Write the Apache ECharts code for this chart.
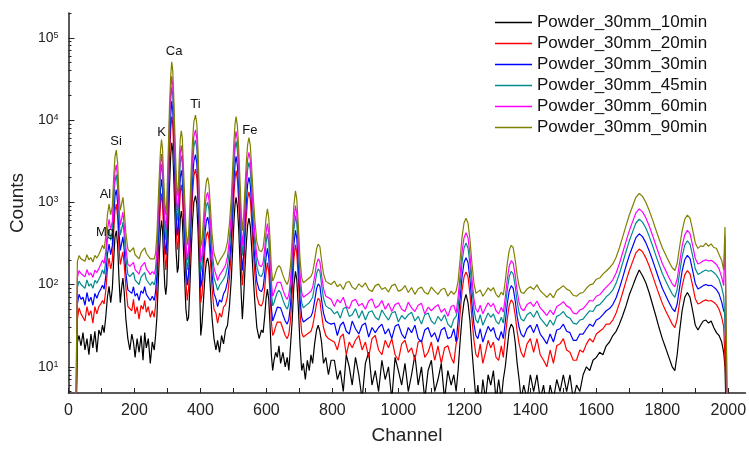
<!DOCTYPE html>
<html>
<head>
<meta charset="utf-8">
<script src="https://cdn.jsdelivr.net/npm/echarts@6/dist/echarts.min.js"></script>
<style>
  html, body { margin: 0; padding: 0; background: #fff; }
  #chart { width: 749px; height: 450px; }
</style>
</head>
<body>
<div id="chart"></div>
<script>
// channel axis, shared by all six spectra
const channels = [
  0,22,27,32,38,44,50,56,62,68,
  74,80,86,92,98,103,108,113,118,123,
  128,133,137,141,145,149,153,157,161,165,
  169,174,180,186,192,197,202,208,214,220,
  226,231,236,242,248,254,260,264,268,272,
  276,279,282,285,288,292,295,298,302,306,
  310,313,316,319,322,326,330,333,336,339,
  342,345,348,352,356,360,364,368,372,376,
  380,385,389,393,397,401,405,410,414,418,
  422,426,430,435,441,447,452,458,464,470,
  476,482,488,494,498,502,505,508,512,516,
  520,524,527,531,535,539,543,547,551,555,
  560,565,571,578,585,590,595,599,603,607,
  611,615,619,623,628,633,638,643,650,657,
  663,668,673,678,683,688,692,697,702,707,
  712,718,724,730,735,740,746,752,757,762,
  767,773,780,788,796,806,815,824,833,842,
  851,860,870,880,890,900,910,920,930,940,
  950,960,970,980,990,1000,1010,1020,1030,1040,
  1050,1060,1070,1080,1090,1100,1110,1120,1130,1140,
  1150,1160,1168,1175,1181,1187,1193,1199,1205,1211,
  1217,1223,1229,1235,1241,1248,1256,1264,1272,1280,
  1288,1296,1304,1312,1318,1324,1330,1336,1342,1348,
  1354,1360,1366,1372,1380,1390,1400,1410,1420,1430,
  1440,1450,1460,1470,1480,1490,1500,1510,1520,1530,
  1540,1550,1560,1570,1580,1590,1600,1610,1620,1630,
  1640,1650,1660,1670,1680,1690,1700,1710,1720,1730,
  1740,1750,1760,1770,1780,1790,1800,1810,1820,1830,
  1838,1845,1852,1860,1868,1876,1884,1892,1900,1908,
  1916,1924,1932,1940,1948,1956,1964,1972,1980,1986,
  1990,1993,1997,2005
];

const counts10 = [
  1,1,20,24,18,26,16,22,14,25,
  17,27,15,28,24,32,26,40,70,95,
  60,90,200,380,450,300,120,60,90,120,
  80,38,22,16,25,20,13,22,15,24,
  12,26,17,22,11,20,16,24,40,100,
  260,450,600,470,220,95,75,100,360,1450,
  3800,5300,4300,2100,850,260,140,160,370,630,
  780,630,310,120,50,36,40,95,260,580,
  1000,1200,950,420,120,24,34,72,135,190,
  210,165,90,40,22,16,21,15,24,19,
  28,32,55,125,290,630,950,1150,890,470,
  185,70,38,70,155,310,520,640,520,290,
  125,60,30,22,28,26,42,68,88,66,
  32,14,9,12,15,13,18,11,15,10,
  13,9,18,36,95,145,115,50,18,9,
  11,7,12,9,14,11,19,28,32,27,
  20,11,13,8,12,12,7,9,5,14,
  10,6,13,8,4,11,15,6,9,5,
  12,7,10,4,13,9,6,11,5,8,
  14,6,10,4,9,12,5,7,11,4,
  9,6,8,5,9,20,40,62,76,60,
  36,16,8,4,6,3,7,4,8,6,
  9,4,7,4,7,10,17,28,33,30,
  20,11,7,4,6,4,8,5,8,4,
  6,3,6,4,7,5,8,5,8,4,
  6,5,8,10,9,12,13,15,14,18,
  20,24,27,33,42,55,75,95,122,150,
  128,105,80,58,42,30,22,17,13,10,
  9,14,26,48,70,80,70,48,32,28,
  32,36,37,34,36,30,26,24,20,15,
  10,3,1,1
];

const counts20 = [
  1,1,38,52,44,46,36,54,42,48,
  34,54,44,54,58,64,58,84,150,210,
  155,195,440,790,950,660,285,175,210,250,
  175,92,54,56,48,66,44,54,38,56,
  50,64,46,54,40,48,40,56,88,220,
  550,950,1280,990,480,220,150,220,770,3100,
  7700,11000,8800,4400,1750,550,265,330,770,1320,
  1630,1320,660,265,110,64,88,200,550,1210,
  2100,2530,1980,880,265,60,76,155,285,395,
  440,350,198,92,50,45,34,45,40,53,
  57,72,120,265,615,1320,1980,2420,1870,990,
  395,155,98,155,330,660,1100,1340,1100,615,
  265,132,72,57,55,62,92,143,183,143,
  77,35,24,26,31,35,37,35,29,24,
  22,25,37,77,198,305,240,110,44,26,
  23,24,25,26,27,31,42,59,68,64,
  44,30,24,22,21,20,16,23,25,14,
  20,17,21,24,16,20,13,22,24,16,
  14,21,17,22,14,12,19,21,15,17,
  12,20,21,13,15,20,12,18,11,17,
  18,13,11,19,23,44,84,124,142,124,
  77,38,21,14,13,19,11,15,21,17,
  20,13,12,18,13,23,38,56,65,60,
  43,27,19,15,13,19,22,15,22,14,
  12,10,16,11,18,19,22,16,15,12,
  12,16,15,19,22,20,25,27,29,33,
  33,37,45,59,80,110,148,190,243,270,
  250,211,169,130,99,76,59,48,40,33,
  30,38,59,95,131,148,135,97,67,58,
  60,63,65,63,64,61,57,50,40,31,
  30,6,1,1
];

const counts30 = [
  1,1,58,76,66,70,56,80,62,70,
  56,78,68,80,88,98,88,125,230,310,
  230,300,660,1200,1420,990,430,260,315,380,
  265,138,86,84,78,94,72,78,64,84,
  78,94,76,80,64,72,64,82,130,330,
  820,1420,1900,1480,720,330,230,330,1150,4600,
  11500,17000,13200,6600,2650,820,395,495,1150,1980,
  2450,1980,990,395,165,98,132,300,820,1820,
  3150,3800,2970,1320,395,92,115,230,430,595,
  660,530,300,138,78,67,54,65,61,77,
  86,108,180,395,925,1980,2970,3630,2800,1480,
  595,230,148,230,495,990,1650,2010,1650,925,
  395,198,108,86,82,92,138,215,275,215,
  115,52,36,40,46,53,56,52,43,36,
  33,38,56,115,300,455,365,165,66,40,
  35,36,38,40,41,46,63,89,102,96,
  66,45,36,34,33,34,24,32,35,27,
  25,36,29,25,32,34,23,30,26,30,
  33,25,29,22,31,33,25,22,30,26,
  32,22,20,28,30,23,26,20,28,30,
  22,23,29,20,36,66,125,185,212,185,
  115,58,33,24,22,29,20,25,31,27,
  30,23,21,27,22,35,58,84,97,90,
  64,41,30,25,23,29,32,26,33,25,
  22,19,25,20,28,29,33,27,26,21,
  21,25,25,29,33,31,37,39,43,48,
  51,57,69,90,122,168,226,290,372,414,
  382,323,258,200,152,116,90,74,61,51,
  47,58,90,145,200,226,206,148,103,88,
  92,97,100,97,98,93,87,77,61,48,
  45,10,1,1
];

const counts45 = [
  1,1,92,110,100,104,90,114,96,102,
  90,112,104,116,130,150,134,190,350,470,
  345,450,1000,1800,2150,1500,650,400,470,575,
  400,210,133,125,119,140,113,117,100,123,
  119,140,115,118,98,108,99,120,200,500,
  1250,2150,2900,2250,1100,500,350,500,1750,7000,
  17500,25000,20000,10000,4000,1250,600,750,1750,3000,
  3700,3000,1500,600,250,150,200,450,1250,2750,
  4750,5750,4500,2000,600,140,175,350,650,900,
  1000,800,450,210,120,101,85,98,94,116,
  130,165,275,600,1400,3000,4500,5500,4250,2250,
  900,350,225,350,750,1500,2500,3050,2500,1400,
  600,300,165,130,125,140,210,325,415,325,
  175,80,55,60,70,80,85,80,65,55,
  50,58,85,175,450,690,550,250,100,60,
  52,55,58,60,62,70,95,135,155,145,
  100,68,55,52,50,44,47,39,51,53,
  41,43,51,39,48,37,46,48,40,37,
  49,42,37,45,47,35,42,38,43,46,
  36,41,33,43,45,36,33,41,36,43,
  33,30,38,41,52,98,188,278,320,278,
  175,88,50,37,34,43,32,38,45,40,
  44,36,33,40,34,52,86,125,145,135,
  96,62,45,38,36,43,46,40,48,39,
  35,31,37,32,41,43,47,41,39,34,
  33,37,38,43,48,47,55,57,63,71,
  77,86,104,135,184,252,340,437,560,622,
  574,486,388,300,228,175,136,111,92,77,
  70,87,136,218,300,340,310,223,155,133,
  138,145,150,145,148,140,130,116,92,72,
  70,20,1,1
];

const counts60 = [
  1,2,122,148,136,140,124,152,130,138,
  122,150,140,156,176,198,180,250,460,620,
  465,590,1320,2400,2850,1980,860,530,625,760,
  530,280,176,166,160,186,152,156,134,164,
  160,186,156,156,132,144,134,158,265,660,
  1650,2850,3850,2980,1450,660,460,660,2300,9200,
  23000,34000,26500,13200,5300,1650,790,990,2300,3950,
  4900,3950,1980,790,330,198,265,595,1650,3650,
  6300,7600,5950,2650,790,185,230,460,860,1190,
  1320,1060,595,278,158,133,112,130,125,154,
  172,218,365,790,1850,3950,5950,7300,5600,2980,
  1190,460,300,460,990,1980,3300,4030,3300,1850,
  790,395,218,172,165,185,278,430,550,430,
  230,106,72,80,92,106,112,106,86,72,
  66,76,112,230,595,910,725,330,132,80,
  70,72,76,80,83,92,125,178,205,190,
  132,89,72,69,66,54,66,60,70,54,
  51,63,66,55,59,50,63,67,52,55,
  64,50,59,47,57,60,50,47,61,52,
  47,56,59,44,53,48,53,57,46,51,
  41,54,56,45,70,130,250,370,425,370,
  232,118,66,50,46,56,44,52,60,54,
  59,48,44,53,46,70,115,168,195,182,
  130,84,60,51,48,57,61,54,63,52,
  47,42,49,43,54,57,62,55,52,45,
  44,49,51,57,64,63,72,75,84,93,
  102,114,138,180,245,335,452,582,745,830,
  765,648,518,400,304,232,180,148,122,102,
  94,116,181,292,402,455,415,298,207,178,
  184,194,200,194,197,188,175,155,123,97,
  380,40,2,1
];

const counts90 = [
  1,2,190,225,205,215,192,230,200,212,
  188,226,210,232,262,300,270,380,700,950,
  700,900,2000,3600,4300,3000,1300,800,950,1150,
  800,420,270,250,245,280,230,235,205,245,
  245,280,240,235,205,215,205,240,400,1000,
  2500,4300,5800,4500,2200,1000,700,1000,3500,14000,
  35000,51000,40000,20000,8000,2500,1200,1500,3500,6000,
  7400,6000,3000,1200,500,300,400,900,2500,5500,
  9500,11500,9000,4000,1200,280,350,700,1300,1800,
  2000,1600,900,420,240,200,172,195,190,232,
  260,330,550,1200,2800,6000,9000,11000,8500,4500,
  1800,700,450,700,1500,3000,5000,6100,5000,2800,
  1200,600,330,260,250,280,420,650,830,650,
  350,160,110,120,140,160,170,160,130,110,
  100,115,170,350,900,1380,1100,500,200,120,
  105,110,115,120,125,140,190,270,310,290,
  200,135,110,104,100,110,94,101,87,106,
  109,93,87,102,93,105,87,82,97,101,
  87,92,81,97,101,83,86,97,80,92,
  76,89,93,80,76,93,83,76,87,90,
  72,83,76,83,110,200,380,560,640,560,
  350,180,105,78,74,86,72,80,91,84,
  92,76,70,81,74,110,180,260,300,280,
  200,130,95,80,78,88,94,87,99,84,
  77,70,78,69,84,90,97,88,84,74,
  72,78,80,90,99,102,116,120,134,146,
  160,178,215,280,380,520,700,900,1150,1280,
  1180,1000,800,620,470,360,280,230,190,160,
  148,180,280,450,620,700,640,460,320,275,
  295,290,318,292,312,282,276,232,196,150,
  500,60,3,1
];

const seriesNames = [
  'Powder_30mm_10min', 'Powder_30mm_20min', 'Powder_30mm_30min',
  'Powder_30mm_45min', 'Powder_30mm_60min', 'Powder_30mm_90min'
];
const seriesColors = ['#000000', '#ff0000', '#0000ff', '#008c8c', '#ff00ff', '#808000'];
const allCounts = [counts10, counts20, counts30, counts45, counts60, counts90];

const xLabelTicks = [0, 200, 400, 600, 800, 1000, 1200, 1400, 1600, 1800, 2000];
const xTicks = [0, 100, 200, 300, 400, 500, 600, 700, 800, 900, 1000,
  1100, 1200, 1300, 1400, 1500, 1600, 1700, 1800, 1900, 2000];
const yLabelTicks = [10, 100, 1000, 10000, 100000];
const yMinorTicks = [5, 6, 7, 8, 9, 20, 30, 40, 50, 60, 70, 80, 90,
  200, 300, 400, 500, 600, 700, 800, 900, 2000, 3000, 4000, 5000, 6000, 7000, 8000, 9000,
  20000, 30000, 40000, 50000, 60000, 70000, 80000, 90000, 200000];

// element labels placed at (channel, counts)
const peakNames = ['Mg', 'Al', 'Si', 'K', 'Ca', 'Ti', 'Fe'];
const peakChannels = [111, 112, 144, 282, 320, 385, 550];
const peakCounts = [431, 1233, 5420, 7160, 68200, 15300, 7570];

const chart = echarts.init(document.getElementById('chart'));

const lineSeries = allCounts.map((arr, k) => ({
  name: seriesNames[k],
  type: 'line',
  symbol: 'none',
  data: channels.map((c, i) => [c, arr[i]]),
  lineStyle: { width: 1.2, color: seriesColors[k] },
  itemStyle: { color: seriesColors[k] },
  clip: true,
  z: 2 + k
}));

const option = {
  animation: false,
  textStyle: { fontFamily: 'Liberation Sans, Arial, sans-serif' },
  grid: { left: 65, right: 0, top: 13, bottom: 53 },
  legend: {
    data: seriesNames,
    orient: 'vertical',
    left: 495,
    top: 14,
    padding: 0,
    icon: 'rect',
    itemWidth: 37,
    itemHeight: 1.5,
    itemGap: 4,
    textStyle: { fontSize: 17, color: '#111' }
  },
  xAxis: {
    type: 'value',
    min: 0,
    max: 2052,
    name: 'Channel',
    nameLocation: 'middle',
    nameGap: 33,
    nameTextStyle: { fontSize: 19, color: '#222' },
    axisLine: { lineStyle: { color: '#222', width: 1.5 } },
    axisTick: { inside: true, length: 5, customValues: xTicks, lineStyle: { color: '#222' } },
    axisLabel: { customValues: xLabelTicks, fontSize: 16, color: '#222', margin: 10, formatter: v => String(v) },
    splitLine: { show: false }
  },
  yAxis: [
    {
      type: 'log',
      logBase: 10,
      min: 4.8,
      max: 200000,
      name: 'Counts',
      nameLocation: 'middle',
      nameGap: 36,
      nameTextStyle: { fontSize: 19, color: '#222' },
      axisLine: { show: true, lineStyle: { color: '#222', width: 1.5 } },
      axisTick: { show: true, inside: true, length: 6, customValues: yLabelTicks, lineStyle: { color: '#222' } },
      axisLabel: {
        customValues: yLabelTicks,
        margin: 10,
        color: '#222',
        formatter: v => '{b|10}{s|' + Math.round(Math.log10(v)) + '}',
        rich: {
          b: { fontSize: 14, color: '#222' },
          s: { fontSize: 9, color: '#222', verticalAlign: 'top' }
        }
      },
      splitLine: { show: false }
    },
    {
      type: 'log',
      logBase: 10,
      min: 4.8,
      max: 200000,
      position: 'left',
      axisLine: { show: false },
      axisTick: { show: true, inside: true, length: 3, customValues: yMinorTicks, lineStyle: { color: '#222' } },
      axisLabel: { show: false },
      splitLine: { show: false }
    }
  ],
  series: lineSeries.concat([{
    type: 'scatter',
    silent: true,
    symbolSize: 1,
    itemStyle: { color: 'rgba(0,0,0,0)' },
    z: 20,
    data: peakNames.map((n, i) => ({ name: n, value: [peakChannels[i], peakCounts[i]] })),
    label: {
      show: true,
      position: 'inside',
      formatter: '{b}',
      fontSize: 13,
      color: '#111',
      opacity: 1
    },
    labelLayout: { hideOverlap: false }
  }])
};

chart.setOption(option);
window.addEventListener('resize', chart.resize);
</script>
</body>
</html>
